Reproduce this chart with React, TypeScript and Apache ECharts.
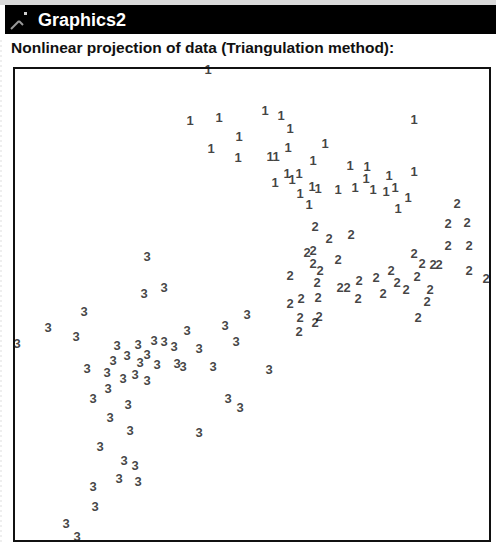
import React, { useEffect, useRef } from "react";
import * as echarts from "echarts";

// Class 1 projected points
const class1X = [194, 176, 205, 251, 267, 276, 225, 197, 224, 256, 262, 274, 311, 299, 400, 336, 353, 375, 400, 261, 273, 278, 285, 286, 298, 304, 295, 324, 341, 352, 359, 372, 381, 384, 394];
const class1Y = [472, 421, 424, 431, 426, 413, 405, 393, 384, 385, 385, 394, 398, 381, 422, 376, 375, 366, 370, 359, 368, 362, 368, 348, 355, 353, 337, 352, 354, 363, 352, 350, 354, 333, 344];

// Class 2 projected points
const class2X = [443, 434, 453, 434, 455, 301, 315, 337, 293, 299, 299, 306, 324, 276, 303, 326, 333, 345, 344, 362, 369, 377, 383, 392, 400, 408, 403, 419, 425, 455, 472, 416, 413, 276, 287, 304, 286, 305, 301, 285, 404];
const class2Y = [338, 318, 319, 296, 296, 315, 303, 307, 289, 291, 278, 271, 282, 266, 259, 254, 254, 261, 243, 264, 248, 271, 259, 252, 288, 278, 265, 277, 277, 271, 263, 252, 240, 238, 243, 244, 224, 225, 219, 210, 224];

// Class 3 projected points
const class3X = [133, 130, 150, 70, 34, 62, 3, 233, 211, 222, 173, 185, 103, 124, 140, 150, 160, 113, 133, 99, 73, 143, 126, 163, 169, 199, 255, 93, 109, 121, 133, 94, 79, 114, 96, 116, 86, 110, 121, 105, 124, 79, 81, 52, 63, 214, 226, 185];
const class3Y = [285, 248, 254, 230, 214, 205, 198, 227, 216, 200, 211, 193, 196, 197, 201, 200, 195, 186, 187, 181, 173, 177, 179, 178, 175, 175, 172, 169, 163, 167, 161, 153, 143, 137, 124, 111, 95, 81, 76, 63, 60, 55, 35, 18, 5, 143, 134, 109];

const classNames = ["1", "2", "3"];
const TITLE = "Graphics2";
const SUBTITLE = "Nonlinear projection of data (Triangulation method):";

function pairs(xs: number[], ys: number[]) {
  return xs.map((x, i) => [x, ys[i]]);
}

export default function App() {
  const ref = useRef<HTMLDivElement>(null);
  useEffect(() => {
    if (!ref.current) return;
    const chart = echarts.init(ref.current, undefined, { renderer: "svg" });
    const labelStyle = (name: string) => ({
      show: true,
      position: "inside" as const,
      formatter: name,
      fontSize: 13,
      fontWeight: "bold" as const,
      fontFamily: "Liberation Sans, Arial, sans-serif",
      color: "#111",
    });
    const sets = [pairs(class1X, class1Y), pairs(class2X, class2Y), pairs(class3X, class3Y)];
    chart.setOption({
      animation: false,
      backgroundColor: "#ffffff",
      grid: {
        left: 14,
        top: 68,
        width: 476,
        height: 473,
        show: true,
        borderColor: "#111",
        borderWidth: 2,
        backgroundColor: "#fff",
      },
      xAxis: { type: "value", min: 0, max: 476, show: false },
      yAxis: { type: "value", min: 0, max: 473, show: false },
      series: sets.map((d, i) => ({
        type: "scatter",
        name: classNames[i],
        data: d,
        symbolSize: 8,
        itemStyle: { color: "rgba(0,0,0,0)" },
        label: labelStyle(classNames[i]),
        silent: true,
      })),
      graphic: [
        { type: "rect", shape: { x: 0, y: 0, width: 496, height: 5 }, style: { fill: "#d9d9d9" } },
        { type: "rect", shape: { x: 5, y: 5, width: 491, height: 29 }, style: { fill: "#000" } },
        { type: "line", shape: { x1: 11, y1: 29, x2: 19, y2: 21 }, style: { stroke: "#9a9a9a", lineWidth: 2 } },
        { type: "line", shape: { x1: 19, y1: 21, x2: 23, y2: 25 }, style: { stroke: "#9a9a9a", lineWidth: 2 } },
        { type: "rect", shape: { x: 24, y: 12, width: 3, height: 3 }, style: { fill: "#cfcfcf" } },
        {
          type: "text",
          x: 38,
          y: 20,
          style: {
            text: TITLE,
            fill: "#fff",
            font: "bold 18px 'Liberation Sans', Arial, sans-serif",
            verticalAlign: "middle",
          },
        },
        {
          type: "text",
          x: 11,
          y: 47,
          style: {
            text: SUBTITLE,
            fill: "#111",
            font: "bold 15.5px 'Liberation Sans', Arial, sans-serif",
            verticalAlign: "middle",
          },
        },
        { type: "line", shape: { x1: 1, y1: 40, x2: 1, y2: 542 }, style: { stroke: "#ddd", lineWidth: 1, lineDash: [2, 3] } },
      ],
    });
    return () => chart.dispose();
  }, []);
  return (
    <div
      ref={ref}
      style={{ position: "fixed", left: 0, top: 0, width: 496, height: 542 }}
    />
  );
}
